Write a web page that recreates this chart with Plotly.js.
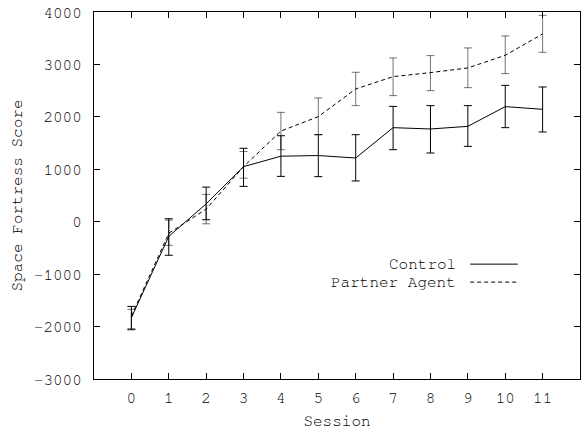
<!DOCTYPE html>
<html>
<head>
<meta charset="utf-8">
<script src="https://cdn.plot.ly/plotly-3.0.1.min.js"></script>
<style>html,body{margin:0;padding:0;background:#fff;}#chart{width:586px;height:429px;}</style>
</head>
<body>
<div id="chart"></div>
<script>
const sessions = [0,1,2,3,4,5,6,7,8,9,10,11];
const controlMean = [-1830,-280,340,1050,1250,1262,1215,1794,1769,1819,2195,2144];
const controlHi   = [-1615,57,660,1400,1640,1660,1660,2200,2214,2214,2601,2570];
const controlLo   = [-2060,-640,38,674,865,860,777,1374,1310,1437,1794,1712];
const partnerMean = [-1800,-220,240,1050,1730,2004,2532,2767,2844,2933,3174,3582];
const partnerHi   = [-1670,30,520,1340,2086,2360,2850,3124,3168,3315,3544,3937];
const partnerLo   = [-2040,-450,-40,830,1374,1660,2214,2405,2500,2557,2824,3231];
const seriesNames = ['Control','Partner Agent'];

const up = (m, h) => h.map((v, i) => v - m[i]);
const dn = (m, l) => l.map((v, i) => m[i] - v);

const font = {family: '"Nimbus Mono PS", "Nimbus Mono L", FreeMono, "Courier New", Courier, "Liberation Mono", monospace', size: 16, color: '#000'};

const traces = [
  {
    x: sessions, y: partnerMean, type: 'scatter', mode: 'lines', name: seriesNames[1],
    line: {color: '#000', width: 1, dash: '4px,3px'},
    error_y: {type: 'data', symmetric: false, array: up(partnerMean, partnerHi), arrayminus: dn(partnerMean, partnerLo),
              color: 'rgba(0,0,0,0.55)', thickness: 1, width: 4}
  },
  {
    x: sessions, y: controlMean, type: 'scatter', mode: 'lines', name: seriesNames[0],
    line: {color: '#000', width: 1},
    error_y: {type: 'data', symmetric: false, array: up(controlMean, controlHi), arrayminus: dn(controlMean, controlLo),
              color: '#000', thickness: 1, width: 4}
  }
];

const layout = {
  width: 586, height: 429,
  margin: {l: 94, r: 6, t: 12, b: 50},
  paper_bgcolor: '#fff', plot_bgcolor: '#fff',
  showlegend: false,
  font: font,
  xaxis: {
    range: [-1, 12], tickvals: sessions, ticktext: sessions.map(String),
    ticks: 'inside', ticklen: 6, tickcolor: '#000', showline: true, linecolor: '#000', linewidth: 1,
    mirror: 'ticks', showgrid: false, zeroline: false, tickfont: font, ticklabelstandoff: 4,
    title: {text: 'Session', font: font, standoff: 9}
  },
  yaxis: {
    range: [-3000, 4000], dtick: 1000, tick0: 0,
    ticks: 'inside', ticklen: 6, tickcolor: '#000', showline: true, linecolor: '#000', linewidth: 1,
    mirror: 'ticks', showgrid: false, zeroline: false, tickfont: font, ticklabelstandoff: 8,
    title: {text: 'Space Fortress Score', font: font, standoff: 7}
  },
  annotations: [
    {xref: 'paper', yref: 'paper', x: 0.749, y: 0.313, xanchor: 'right', yanchor: 'middle', text: seriesNames[0], showarrow: false, font: font},
    {xref: 'paper', yref: 'paper', x: 0.749, y: 0.264, xanchor: 'right', yanchor: 'middle', text: seriesNames[1], showarrow: false, font: font}
  ],
  shapes: [
    {type: 'line', xref: 'paper', yref: 'paper', x0: 0.774, x1: 0.872, y0: 0.313, y1: 0.313, line: {color: '#000', width: 1}},
    {type: 'line', xref: 'paper', yref: 'paper', x0: 0.774, x1: 0.872, y0: 0.264, y1: 0.264, line: {color: '#000', width: 1, dash: '4px,3px'}}
  ]
};

Plotly.newPlot('chart', traces, layout, {displayModeBar: false, staticPlot: true});
</script>
</body>
</html>
